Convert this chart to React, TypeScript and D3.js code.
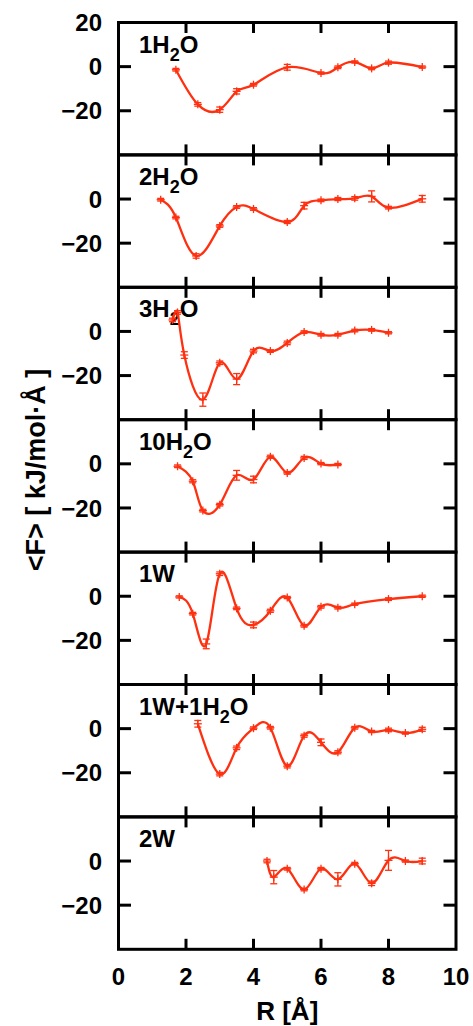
import React from "react";
import * as d3 from "d3";

const panelNames = ["1H2O", "2H2O", "3H2O", "10H2O", "1W", "1W+1H2O", "2W"];

const s1x = [1.7, 2.35, 3.0, 3.5, 4.0, 5.0, 6.0, 6.5, 7.0, 7.5, 8.0, 9.0];
const s1y = [-1.4, -17.1, -19.5, -11.2, -8.2, -0.3, -2.9, -0.3, 2.1, -0.8, 1.8, -0.2];
const s1e = [0.6, 0.8, 1.2, 1.2, 0.6, 1.3, 0.5, 0.6, 0.5, 0.6, 0.7, 0.5];

const s2x = [1.25, 1.7, 2.3, 3.0, 3.5, 4.0, 5.0, 5.5, 6.0, 6.5, 7.0, 7.5, 8.0, 9.0];
const s2y = [-0.3, -8.4, -25.8, -12.2, -3.6, -4.5, -10.4, -3.0, -0.6, 0, 0.3, 1.2, -3.9, 0.1];
const s2e = [0.6, 0.6, 1.0, 0.6, 0.6, 0.6, 0.7, 1.5, 0.6, 0.7, 0.8, 2.5, 0.6, 1.5];

const s3x = [1.6, 1.75, 1.95, 2.5, 3.0, 3.5, 4.0, 4.5, 5.0, 5.5, 6.0, 6.5, 7.0, 7.5, 8.0];
const s3y = [5.2, 8.6, -10.7, -30.9, -14.2, -21.6, -8.9, -8.9, -5.2, -0.3, -1.5, -1.5, 0.4, 0.7, -0.6];
const s3e = [0.8, 0.8, 1.5, 3.0, 0.8, 2.5, 0.8, 0.6, 0.8, 0.6, 0.6, 0.6, 0.6, 0.6, 0.5];

const s4x = [1.75, 2.2, 2.5, 3.0, 3.5, 4.0, 4.5, 5.0, 5.5, 6.0, 6.5];
const s4y = [-1.1, -7.9, -21.2, -18.5, -5.2, -7.1, 3.2, -4.1, 2.7, 0.1, -0.3];
const s4e = [0.6, 0.7, 0.6, 0.6, 2.2, 1.5, 0.7, 0.6, 0.7, 0.5, 0.5];

const s5x = [1.8, 2.2, 2.6, 3.0, 3.5, 4.0, 4.5, 5.0, 5.5, 6.0, 6.5, 7.0, 8.0, 9.0];
const s5y = [-0.3, -7.9, -21.6, 10.2, -5.5, -13.0, -6.6, -0.6, -13.4, -4.8, -5.2, -3.6, -1.3, 0];
const s5e = [0.5, 0.6, 2.2, 0.8, 0.6, 1.3, 0.7, 0.5, 0.6, 0.6, 0.6, 0.5, 0.6, 0.5];

const s6x = [2.35, 3.0, 3.5, 4.0, 4.5, 5.0, 5.5, 6.0, 6.5, 7.0, 7.5, 8.0, 8.5, 9.0];
const s6y = [2.2, -20.6, -8.7, 0.2, 0.4, -17.0, -3.2, -6.2, -10.7, 0.4, -1.3, -0.6, -2.0, -0.3];
const s6e = [1.5, 0.8, 0.8, 0.6, 0.6, 0.8, 0.7, 1.5, 0.7, 0.6, 0.5, 0.8, 0.5, 0.9];

const s7x = [4.4, 4.6, 5.0, 5.5, 6.0, 6.5, 7.0, 7.5, 8.0, 8.5, 9.0];
const s7y = [0, -7.3, -3.5, -12.9, -3.5, -8.3, -1.2, -10.1, 0.3, 0.0, 0.0];
const s7e = [0.8, 3.0, 0.6, 0.6, 0.6, 3.0, 0.6, 1.0, 4.5, 0.5, 1.3];

const seriesX = [s1x, s2x, s3x, s4x, s5x, s6x, s7x];
const seriesY = [s1y, s2y, s3y, s4y, s5y, s6y, s7y];
const seriesE = [s1e, s2e, s3e, s4e, s5e, s6e, s7e];

const xTicks = [0, 2, 4, 6, 8, 10];
const yTicks = [20, 0, -20, -40];
const yLabelTicks = [0, -20];

const W = 473;
const H = 1026;
const LEFT = 118.5;
const RIGHT = 456;
const TOP = 22.5;
const PH = 132.4;
const RED = "#ff3010";
const FONT = "'Liberation Sans', Arial, Helvetica, sans-serif";

function PanelLabel({ name, x, y }: { name: string; x: number; y: number }) {
  const parts = name.split("H2O");
  const fs = 24;
  if (parts.length === 1) {
    return (
      <text x={x} y={y} fontSize={fs} fontWeight="bold" fontFamily={FONT}>
        {name}
      </text>
    );
  }
  return (
    <text x={x} y={y} fontSize={fs} fontWeight="bold" fontFamily={FONT}>
      <tspan>{parts[0]}H</tspan>
      <tspan fontSize={18} dy={8}>2</tspan>
      <tspan dy={-8}>O{parts[1]}</tspan>
    </text>
  );
}

export default function App() {
  const x = d3.scaleLinear().domain([0, 10]).range([LEFT, RIGHT]);
  return (
    <svg
      width={W}
      height={H}
      style={{ position: "absolute", left: 0, top: 0, background: "#fff" }}
    >
      <rect x={0} y={0} width={W} height={H} fill="#fff" />
      {panelNames.map((name, i) => {
        const top = TOP + i * PH;
        const y = d3.scaleLinear().domain([-40, 20]).range([top + PH, top]);
        const xs = seriesX[i];
        const ys = seriesY[i];
        const es = seriesE[i];
        const pts: [number, number][] = xs.map((v, k) => [x(v), y(ys[k])]);
        const line = d3.line().curve(d3.curveNatural)(pts) || "";
        return (
          <g key={name}>
            {/* ticks */}
            {xTicks.slice(1, -1).map((t) => (
              <g key={"xt" + t}>
                <line x1={x(t)} x2={x(t)} y1={top} y2={top + 10.5} stroke="#000" strokeWidth={3} />
                <line x1={x(t)} x2={x(t)} y1={top + PH} y2={top + PH - 10.5} stroke="#000" strokeWidth={3} />
              </g>
            ))}
            {yTicks.slice(1, -1).map((t) => (
              <g key={"yt" + t}>
                <line x1={LEFT} x2={LEFT + 12.5} y1={y(t)} y2={y(t)} stroke="#000" strokeWidth={3} />
                <line x1={RIGHT} x2={RIGHT - 12.5} y1={y(t)} y2={y(t)} stroke="#000" strokeWidth={3} />
              </g>
            ))}
            {/* y tick labels */}
            {(i === 0 ? [20, ...yLabelTicks] : yLabelTicks).map((t) => (
              <text
                key={"yl" + t}
                x={102}
                y={y(t)}
                dy="0.36em"
                textAnchor="end"
                fontSize={24}
                fontWeight="bold"
                fontFamily={FONT}
              >
                {t < 0 ? "\u2212" + Math.abs(t) : String(t)}
              </text>
            ))}
            <PanelLabel name={name} x={139} y={top + 30} />
            {/* error bars */}
            {xs.map((v, k) => {
              const cx = x(v);
              const y1 = y(ys[k] + es[k]);
              const y2 = y(ys[k] - es[k]);
              return (
                <g key={"e" + k} stroke={RED} strokeWidth={1.3}>
                  <line x1={cx} x2={cx} y1={y1} y2={y2} />
                  <line x1={cx - 3.5} x2={cx + 3.5} y1={y1} y2={y1} />
                  <line x1={cx - 3.5} x2={cx + 3.5} y1={y2} y2={y2} />
                  <line x1={cx - 4} x2={cx + 4} y1={y(ys[k])} y2={y(ys[k])} />
                  <line x1={cx} x2={cx} y1={y(ys[k]) - 4} y2={y(ys[k]) + 4} />
                </g>
              );
            })}
            <path d={line} fill="none" stroke={RED} strokeWidth={2.3} />
            <rect
              x={LEFT}
              y={top}
              width={RIGHT - LEFT}
              height={PH}
              fill="none"
              stroke="#000"
              strokeWidth={3}
            />
          </g>
        );
      })}
      {/* x tick labels */}
      {xTicks.map((t) => (
        <text
          key={"xl" + t}
          x={x(t)}
          y={985}
          textAnchor="middle"
          fontSize={24}
          fontWeight="bold"
          fontFamily={FONT}
        >
          {t}
        </text>
      ))}
      <text
        x={x(5)}
        y={1020}
        textAnchor="middle"
        fontSize={26}
        fontWeight="bold"
        fontFamily={FONT}
      >
        R [Å]
      </text>
      <text
        transform={`translate(45, 470) rotate(-90)`}
        textAnchor="middle"
        fontSize={27}
        fontWeight="bold"
        fontFamily={FONT}
      >
        {"<F> [ kJ/mol\u00B7Å ]"}
      </text>
    </svg>
  );
}
